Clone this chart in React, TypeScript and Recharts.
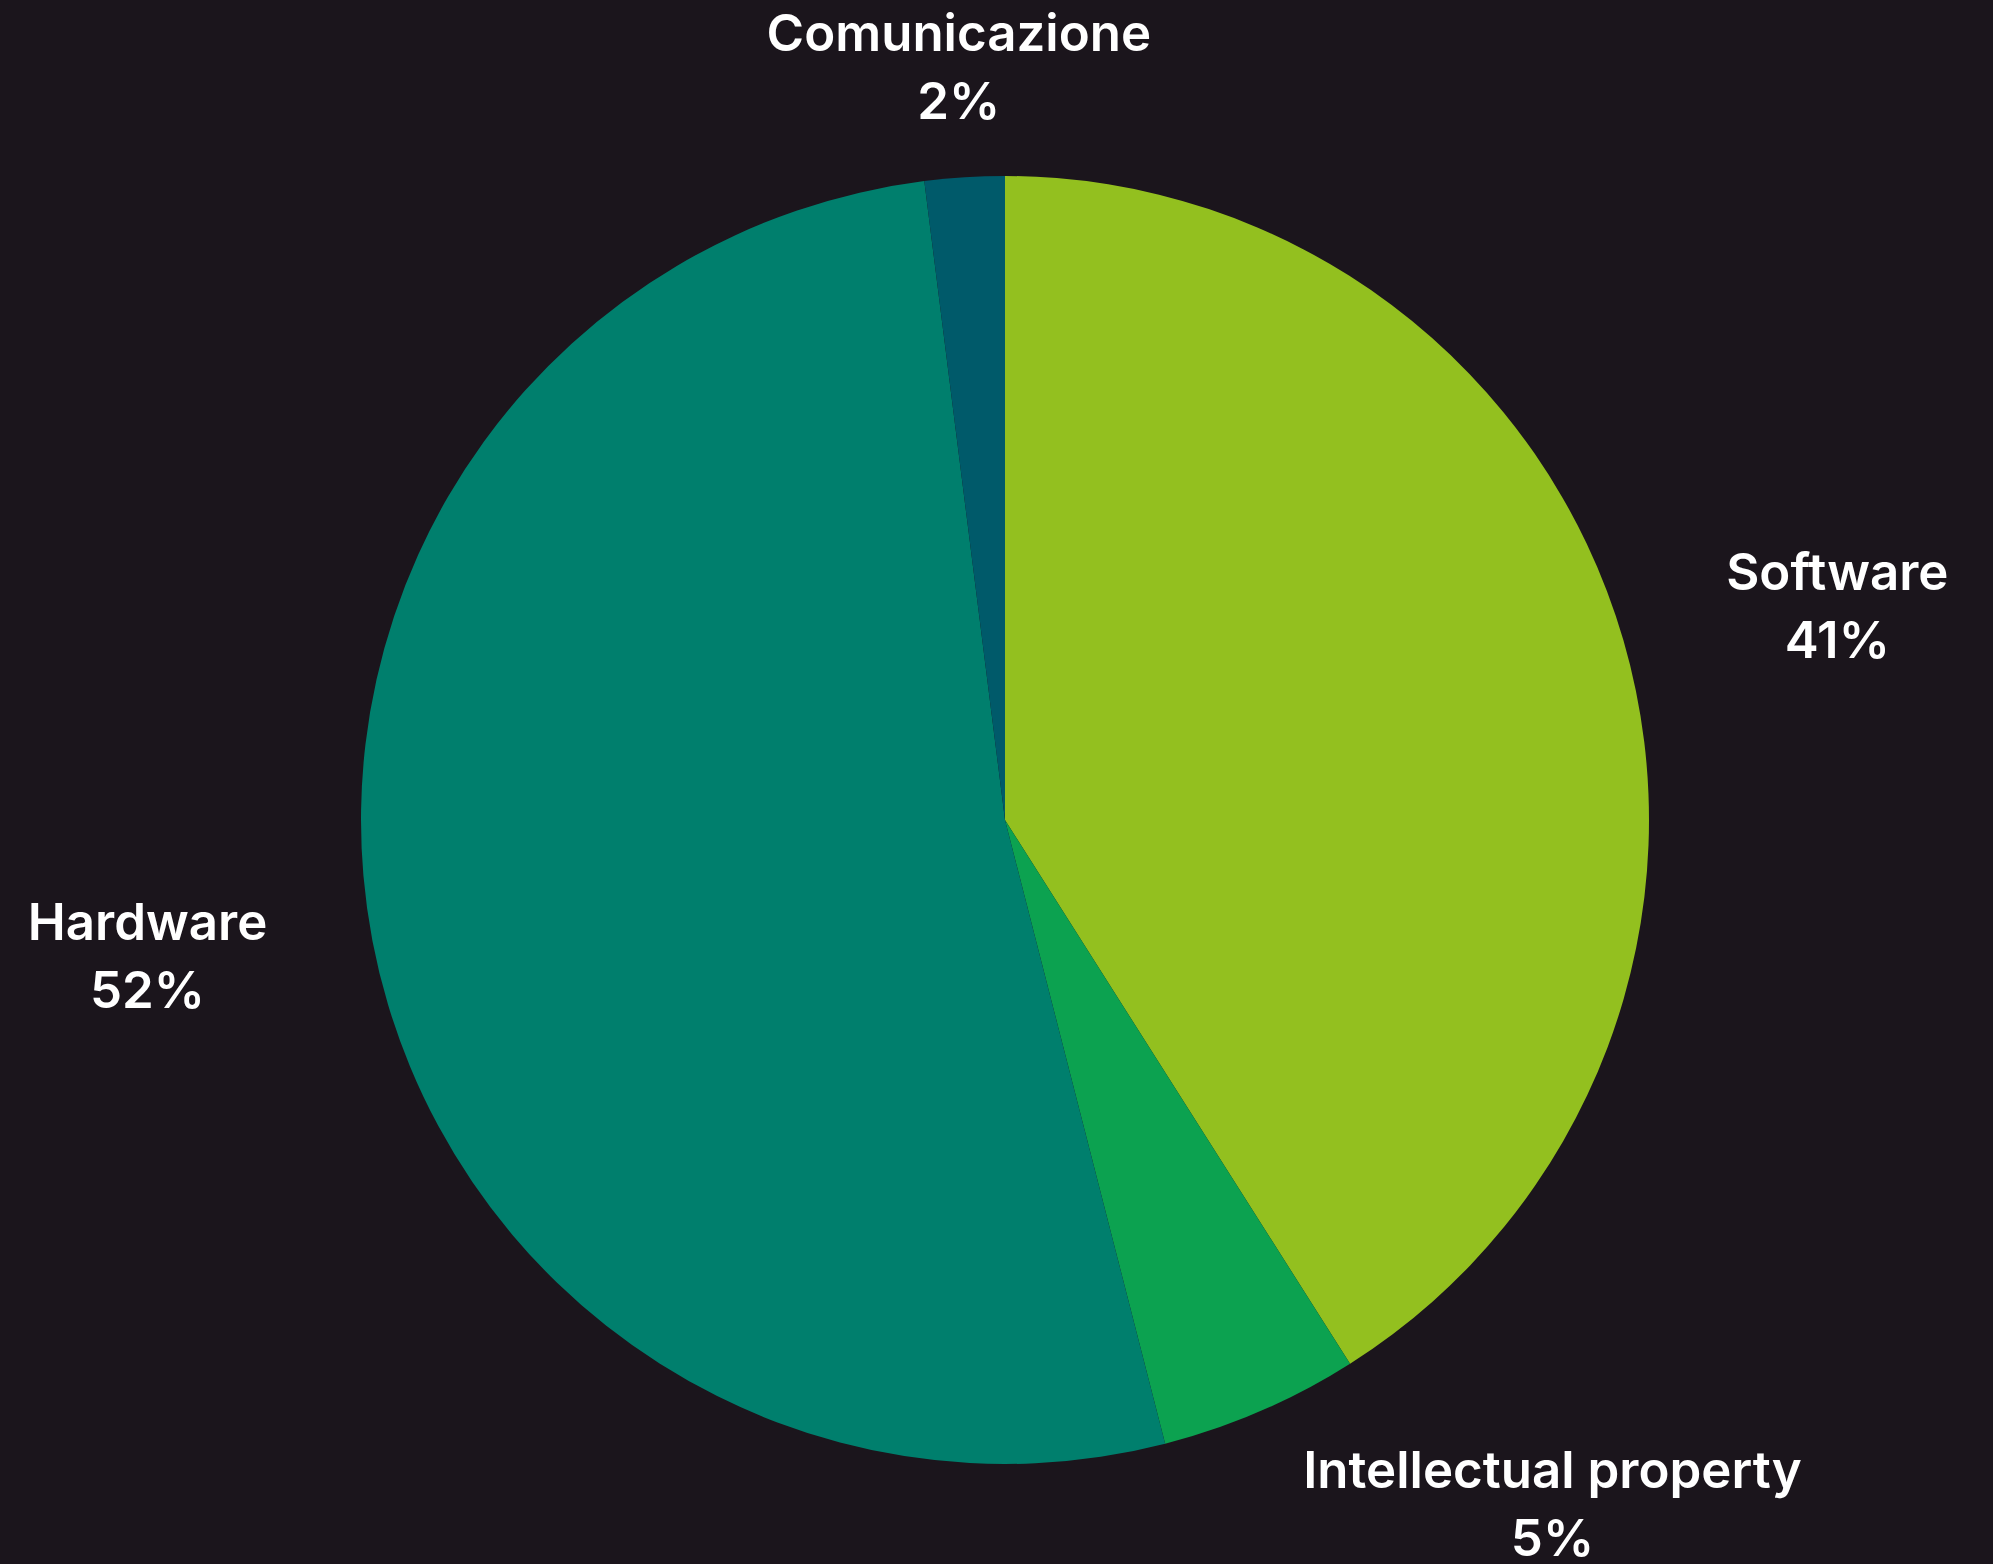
import { Cell, Pie, PieChart } from "recharts";

const categories = ["Software", "Intellectual property", "Hardware", "Comunicazione"];
const shares = [41, 5, 52, 2];
const colors = ["#93c01f", "#0ca250", "#007f6d", "#005a6a"];

const data = categories.map((name, i) => ({ name, value: shares[i] }));

const FONT_SIZE = 51;
const FONT = `600 ${FONT_SIZE}px Inter`;
const RAD = Math.PI / 180;

let ctx: CanvasRenderingContext2D | null = null;
function measure(text: string) {
  if (!ctx) ctx = document.createElement("canvas").getContext("2d");
  if (!ctx) return text.length * FONT_SIZE * 0.55;
  ctx.font = FONT;
  return ctx.measureText(text).width;
}

function renderLabel(props: any) {
  const { cx, cy, midAngle, outerRadius, index } = props;
  const name = categories[index];
  const pct = `${shares[index]}%`;
  const r = outerRadius + 91;
  const cos = Math.cos(-midAngle * RAD);
  const sin = Math.sin(-midAngle * RAD);
  const px = cx + r * cos;
  const py = cy + (r + 15) * sin - 5;
  const w = Math.max(measure(name), measure(pct));
  const pad = 16 * Math.abs(cos);
  let x = px;
  if (cos > 0.2) x = px + pad + w / 2;
  else if (cos < -0.2) x = px - pad - w / 2;
  return (
    <g key={`label-${index}`}>
      <text x={x} y={py - 34} textAnchor="middle" dominantBaseline="central"
        fill="#ffffff" fontFamily="Inter" fontWeight={600} fontSize={FONT_SIZE}>
        {name}
      </text>
      <text x={x} y={py + 34} textAnchor="middle" dominantBaseline="central"
        fill="#ffffff" fontFamily="Inter" fontWeight={600} fontSize={FONT_SIZE}>
        {pct}
      </text>
    </g>
  );
}

export default function App() {
  return (
    <div style={{ position: "fixed", left: 0, top: 0, width: 1993, height: 1564, background: "#1b151c" }}>
      <PieChart width={1993} height={1564} margin={{ top: 0, right: 0, bottom: 0, left: 0 }}>
        <Pie
          data={data}
          dataKey="value"
          nameKey="name"
          cx={1005}
          cy={820}
          outerRadius={644}
          startAngle={90}
          endAngle={-270}
          stroke="none"
          labelLine={false}
          label={renderLabel}
          isAnimationActive={false}
        >
          {data.map((d, i) => (
            <Cell key={d.name} fill={colors[i]} />
          ))}
        </Pie>
      </PieChart>
    </div>
  );
}
